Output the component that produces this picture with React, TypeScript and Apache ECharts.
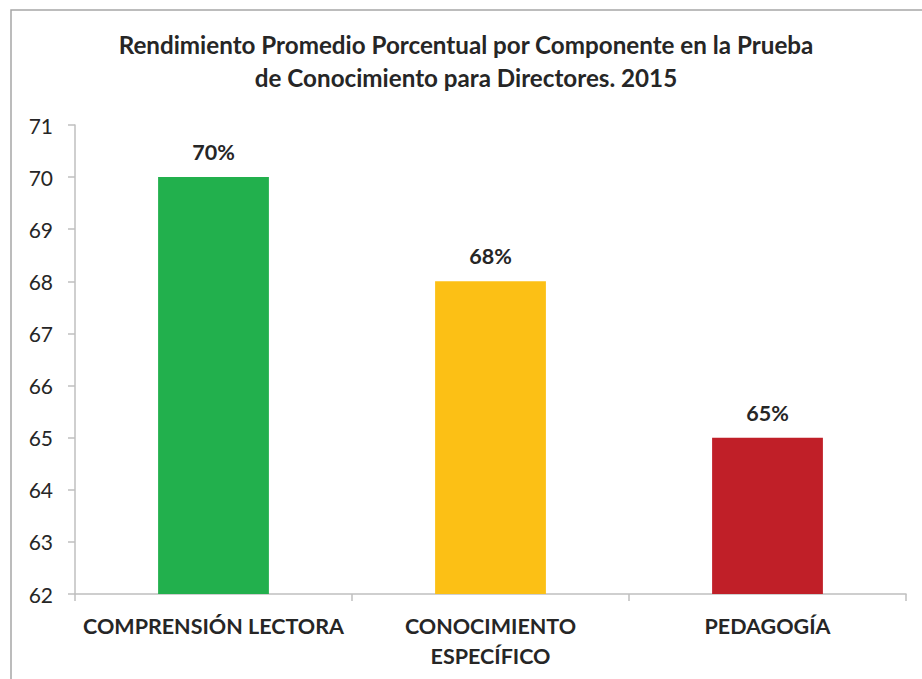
import React, { useEffect, useRef } from "react";
import * as echarts from "echarts";

const titleLines = [
  "Rendimiento Promedio Porcentual por Componente en la Prueba",
  "de Conocimiento para Directores. 2015",
];
const categories = ["COMPRENSIÓN LECTORA", "CONOCIMIENTO\nESPECÍFICO", "PEDAGOGÍA"];
const values = [70, 68, 65];
const barColors = ["#22B04D", "#FCC015", "#C01F28"];
const yMin = 62;
const yMax = 71;
const yInterval = 1;

const FONT = "Lato, 'Open Sans', sans-serif";

export default function App() {
  const ref = useRef<HTMLDivElement>(null);
  useEffect(() => {
    if (!ref.current) return;
    const chart = echarts.init(ref.current, undefined, { renderer: "svg" });
    chart.setOption({
      animation: false,
      backgroundColor: "#ffffff",
      textStyle: { fontFamily: FONT },
      title: {
        text: titleLines.join("\n"),
        left: 466,
        textAlign: "center",
        top: 28,
        padding: 0,
        textStyle: {
          fontFamily: FONT,
          fontSize: 24.2,
          fontWeight: "bold",
          color: "#262626",
          lineHeight: 33,
        },
      },
      graphic: [
        {
          type: "rect",
          shape: { x: 11, y: 10, width: 940, height: 700 },
          style: { fill: "none", stroke: "#a6a6a6", lineWidth: 1.5 },
          silent: true,
        },
      ],
      grid: { left: 75, right: 16, top: 125, bottom: 85 },
      xAxis: {
        type: "category",
        data: categories,
        axisLine: { show: true, lineStyle: { color: "#bfbfbf", width: 1.5 } },
        axisTick: { show: true, alignWithLabel: false, length: 7, lineStyle: { color: "#bfbfbf", width: 1.5 } },
        axisLabel: {
          fontFamily: FONT,
          fontSize: 21.5,
          fontWeight: "bold",
          color: "#262626",
          margin: 17,
          lineHeight: 30,
          interval: 0,
        },
      },
      yAxis: {
        type: "value",
        min: yMin,
        max: yMax,
        interval: yInterval,
        axisLine: { show: true, lineStyle: { color: "#bfbfbf", width: 1.5 } },
        axisTick: { show: true, length: 7, lineStyle: { color: "#bfbfbf", width: 1.5 } },
        splitLine: { show: false },
        axisLabel: {
          fontFamily: FONT,
          fontSize: 21,
          color: "#262626",
          margin: 22,
        },
      },
      series: [
        {
          type: "bar",
          barWidth: "40%",
          data: values.map((v, i) => ({ value: v, itemStyle: { color: barColors[i] } })),
          label: {
            show: true,
            position: "top",
            distance: 14,
            formatter: (p: any) => `${p.value}%`,
            fontFamily: FONT,
            fontSize: 21.5,
            fontWeight: "bold",
            color: "#262626",
          },
        },
      ],
    });
    return () => chart.dispose();
  }, []);
  return (
    <div
      ref={ref}
      style={{ position: "fixed", left: 0, top: 0, width: 922, height: 679 }}
    />
  );
}
